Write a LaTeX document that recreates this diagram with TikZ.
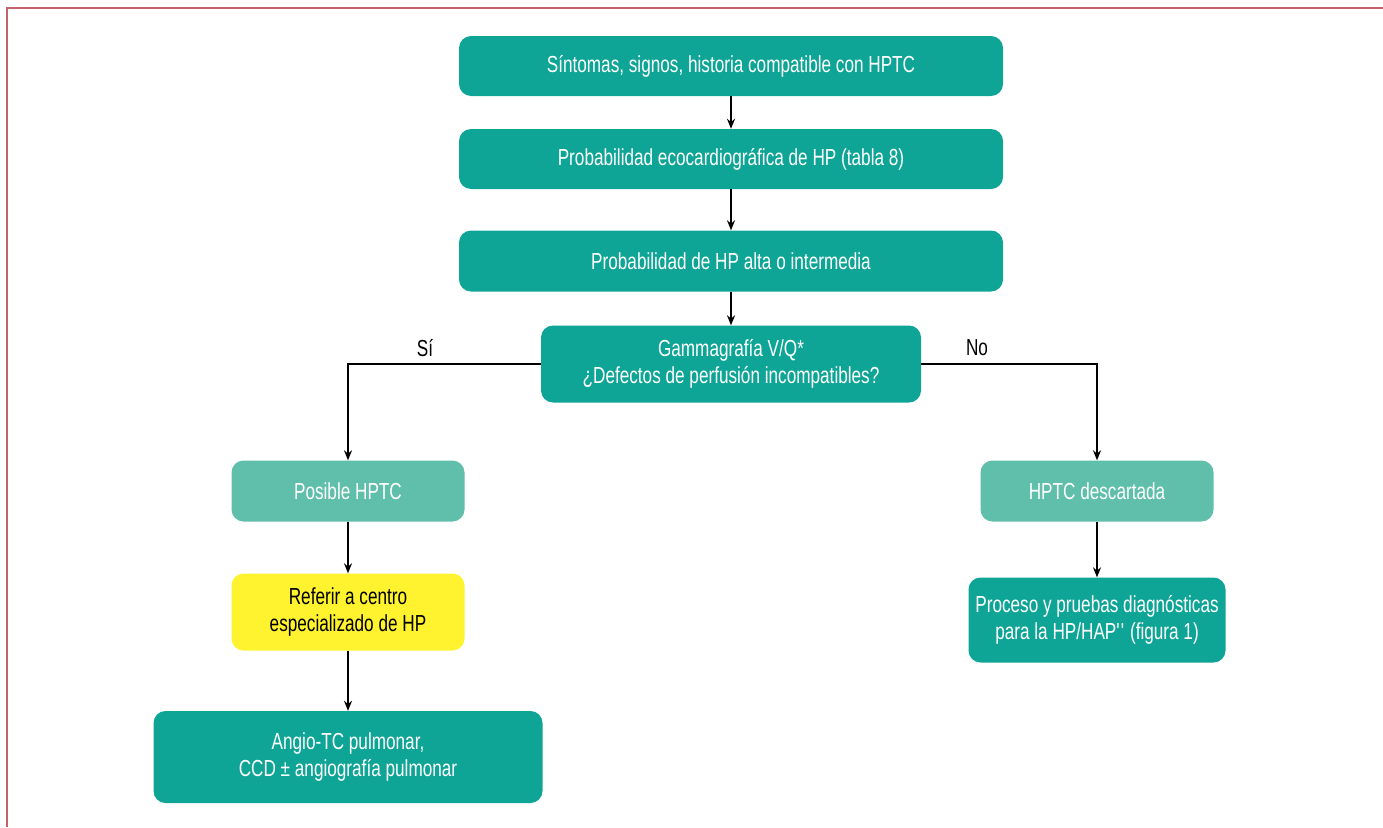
\documentclass[tikz,border=0pt]{standalone}
\usepackage{fontspec}
\setmainfont{Liberation Sans}[FakeStretch=0.74]
\usetikzlibrary{arrows.meta}
\definecolor{tealbox}{HTML}{0EA596}
\definecolor{lighttealbox}{HTML}{5FBFAA}
\definecolor{yellowbox}{HTML}{FFF22F}
\definecolor{framecol}{HTML}{C2636B}
\begin{document}
\begin{tikzpicture}[x=1pt,y=-1pt]
            \tikzset{box/.style={rounded corners=12pt, fill=tealbox, text=white, align=center, inner sep=0pt,
                        font=\fontsize{23.2}{27}\selectfont},
                     softbox/.style={box, fill=lighttealbox},
                     notebox/.style={box, fill=yellowbox, text=black},
                     arr/.style={-{Stealth[length=10pt,width=8pt]}, line width=1.5pt},
                     boldarr/.style={arr, line width=2.4pt},
                     lbl/.style={font=\fontsize{23.2}{27}\selectfont}}
            \useasboundingbox (0,0) rectangle (1383,827);
            \draw [framecol, line width=1.6pt] (7,827) -- (7,8) -- (1383,8);
            % main column
            \node [box, minimum width=544pt, minimum height=60pt] (sintomas) at (731,66) {Síntomas, signos, historia compatible con HPTC};
            \node [box, minimum width=544pt, minimum height=60pt] (eco) at (731,159) {Probabilidad ecocardiográfica de HP (tabla 8)};
            \node [box, minimum width=544pt, minimum height=61pt] (alta) at (731,261) {Probabilidad de HP alta o intermedia};
            \node [box, minimum width=380pt, minimum height=77pt] (gamma) at (731,364) {Gammagrafía V/Q*\\¿Defectos de perfusión incompatibles?};
            % left branch
            \node [softbox, minimum width=233pt, minimum height=61pt] (posible) at (348,491) {Posible HPTC};
            \node [notebox, minimum width=233pt, minimum height=77pt] (referir) at (348,612) {Referir a centro\\especializado de HP};
            \node [box, minimum width=389pt, minimum height=92pt] (angio) at (348,757) {Angio-TC pulmonar,\\CCD ± angiografía pulmonar};
            % right branch
            \node [softbox, minimum width=233pt, minimum height=61pt] (descartada) at (1097,491) {HPTC descartada};
            \node [box, minimum width=257pt, minimum height=85pt] (proceso) at (1097,620) {Proceso y pruebas diagnósticas\\para la HP/HAP\textquotesingle\textquotesingle\ (figura 1)};
            % connectors
            \draw [boldarr] (sintomas) -- (eco);
            \draw [boldarr] (eco) -- (alta);
            \draw [boldarr] (alta) -- (gamma);
            \draw [arr] (gamma.west) -| (posible.north);
            \draw [arr] (gamma.east) -| (descartada.north);
            \draw [arr] (posible) -- (referir);
            \draw [arr] (referir) -- (angio);
            \draw [arr] (descartada) -- (proceso);
            \node [lbl] (si) at (425,348) {Sí};
            \node [lbl] (no) at (977,348) {No};
\end{tikzpicture}
\end{document}
